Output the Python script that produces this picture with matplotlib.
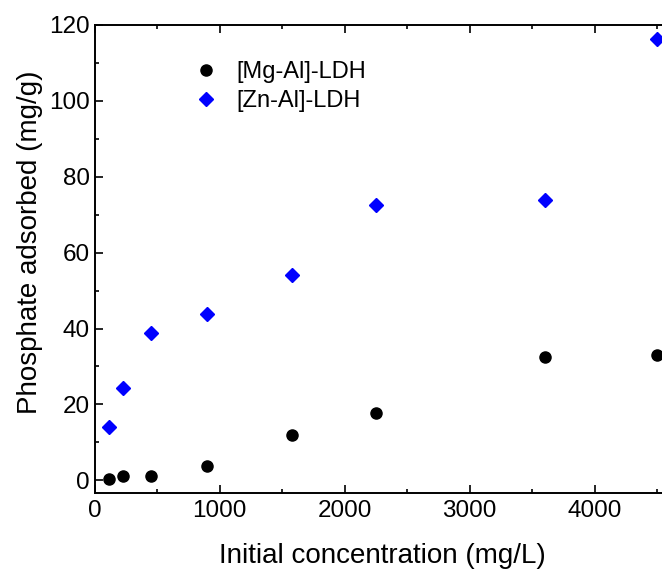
import matplotlib
matplotlib.use("Agg")
import matplotlib.pyplot as plt
from matplotlib.ticker import MultipleLocator

plt.rcParams['font.family'] = ['Liberation Sans', 'DejaVu Sans']

conc = [112.5, 225, 450, 900, 1575, 2250, 3600, 4500]
mg_al = [0.3, 1.1, 1.1, 3.7, 12.0, 17.8, 32.5, 33.0]
zn_al = [14.1, 24.3, 38.9, 43.7, 54.1, 72.5, 73.8, 116.2]

fig = plt.figure(figsize=(6.62, 5.73), dpi=100)
ax = fig.add_axes([0.1428, 0.1396, 0.869, 0.8175])

ax.plot(conc, mg_al, 'o', color='black', markersize=8, label='[Mg-Al]-LDH')
ax.plot(conc, zn_al, 'D', color='#0000ff', markersize=7.5, label='[Zn-Al]-LDH')

ax.set_xlim(0, 4600)
ax.set_ylim(-3.3, 120)
ax.xaxis.set_major_locator(MultipleLocator(1000))
ax.xaxis.set_minor_locator(MultipleLocator(500))
ax.yaxis.set_major_locator(MultipleLocator(20))
ax.yaxis.set_minor_locator(MultipleLocator(10))
ax.tick_params(which='both', direction='in', top=True, right=True, labelsize=17.5, width=1.2)
ax.tick_params(which='major', length=6)
ax.tick_params(which='minor', length=3)
ax.tick_params(axis='x', pad=5)
for s in ax.spines.values():
    s.set_linewidth(1.4)

ax.set_xlabel('Initial concentration (mg/L)', fontsize=20, labelpad=15)
ax.set_ylabel('Phosphate adsorbed (mg/g)', fontsize=20, labelpad=4)
ax.yaxis.label.set_y(0.535)

ax.legend(loc='upper left', bbox_to_anchor=(0.115, 0.968), frameon=False, fontsize=17,
          handletextpad=0.3, labelspacing=0.3)

fig.savefig('out.png', dpi=100)
